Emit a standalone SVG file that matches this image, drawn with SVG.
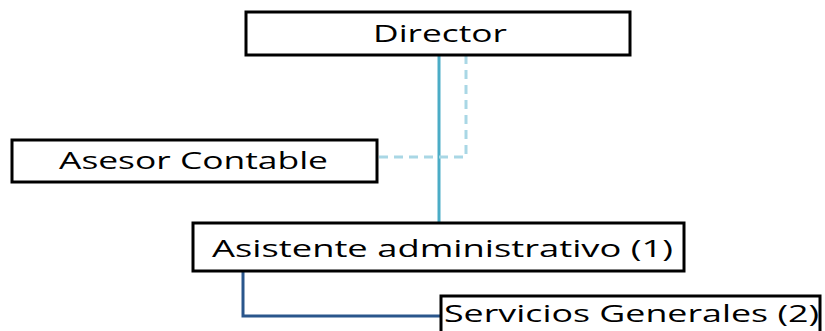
<svg xmlns="http://www.w3.org/2000/svg" width="825" height="331" viewBox="0 0 825 331">
<style>
.box{fill:#fff;stroke:#000;stroke-width:3}
.lbl{font-family:"Open Sans","Liberation Sans",sans-serif;font-size:23px;fill:#000}
.solid{fill:none;stroke:#4bacc6;stroke-width:3}
.dash{fill:none;stroke:#a9d7e5;stroke-width:3;stroke-dasharray:9,6}
.dark{fill:none;stroke:#2a568c;stroke-width:3}
</style>
<rect width="825" height="331" fill="#fff"/>
<g id="connectors">
<path class="solid" d="M439,55 V223"/>
<path class="dash" d="M466,55 V157 H377"/>
<path class="dark" d="M243,271 V316 H441"/>
</g>
<g id="director">
<rect class="box" x="246" y="12" width="384" height="43"/>
<text class="lbl" x="373" y="42" textLength="134" lengthAdjust="spacingAndGlyphs">Director</text>
</g>
<g id="asesor">
<rect class="box" x="12" y="140" width="365" height="42"/>
<text class="lbl" x="59" y="169" textLength="269" lengthAdjust="spacingAndGlyphs">Asesor Contable</text>
</g>
<g id="asistente">
<rect class="box" x="193" y="223" width="491" height="48"/>
<text class="lbl" x="212" y="257" textLength="461" lengthAdjust="spacingAndGlyphs">Asistente administrativo (1)</text>
</g>
<g id="servicios">
<rect class="box" x="441" y="296" width="379" height="45"/>
<text class="lbl" x="444" y="322" textLength="375" lengthAdjust="spacingAndGlyphs">Servicios Generales (2)</text>
</g>
</svg>
